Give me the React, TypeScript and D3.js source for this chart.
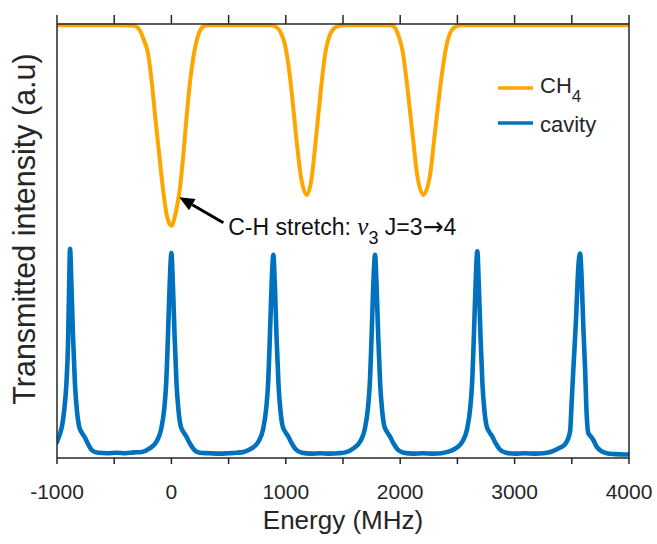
import React from 'react';
import * as d3 from 'd3';

// ---------- data ----------
const xTickLabels = [-1000, 0, 1000, 2000, 3000, 4000];
const xTickMarks = [-1000, -500, 0, 500, 1000, 1500, 2000, 2500, 3000, 3500, 4000];

// CH4 absorption trace (Energy MHz, transmitted a.u.)
const ch4Trace: [number, number][] = [
  [-1000, 0.997], [-800, 0.997], [-600, 0.997], [-420, 0.997], [-320, 0.996], [-290, 0.99],
  [-262, 0.978], [-245, 0.966], [-202, 0.929], [-172, 0.867], [-143, 0.79], [-106, 0.698],
  [-71, 0.614], [-41, 0.56], [0, 0.535], [40, 0.568], [75, 0.622], [104, 0.698],
  [134, 0.79], [163, 0.867], [200, 0.936], [235, 0.975], [279, 0.994], [320, 0.997],
  [500, 0.997], [700, 0.997], [862, 0.997], [915, 0.993], [949, 0.984], [993, 0.952],
  [1031, 0.89], [1060, 0.821], [1095, 0.729], [1130, 0.652], [1183, 0.606], [1226, 0.645],
  [1255, 0.714], [1284, 0.79], [1314, 0.867], [1343, 0.929], [1386, 0.975], [1445, 0.994],
  [1503, 0.997], [1700, 0.997], [1900, 0.997], [1945, 0.994], [1983, 0.975], [2022, 0.936],
  [2057, 0.867], [2086, 0.798], [2115, 0.729], [2144, 0.66], [2202, 0.606], [2261, 0.652],
  [2295, 0.729], [2328, 0.806], [2363, 0.882], [2406, 0.952], [2464, 0.99], [2523, 0.997],
  [2800, 0.997], [3200, 0.997], [3600, 0.997], [4000, 0.997],
];

// Cavity transmission trace (Energy MHz, transmitted a.u.)
const cavityTrace: [number, number][] = [
  [-1000, 0.037], [-975, 0.055], [-955, 0.075], [-935, 0.115], [-918, 0.17], [-904, 0.26],
  [-895, 0.38], [-886, 0.482], [-874, 0.4], [-860, 0.28], [-843, 0.17], [-826, 0.11],
  [-806, 0.072], [-782, 0.058], [-758, 0.048], [-728, 0.032], [-695, 0.018], [-640, 0.012],
  [-560, 0.011], [-480, 0.012], [-400, 0.011], [-330, 0.013], [-260, 0.014], [-190, 0.022],
  [-130, 0.038], [-90, 0.066], [-62, 0.115], [-46, 0.17], [-30, 0.28], [-15, 0.4],
  [0, 0.472], [13, 0.4], [28, 0.28], [45, 0.17], [62, 0.11], [80, 0.075],
  [105, 0.06], [130, 0.05], [160, 0.034], [195, 0.02], [250, 0.012], [330, 0.011],
  [420, 0.01], [500, 0.011], [570, 0.012], [631, 0.014], [701, 0.022], [761, 0.038],
  [801, 0.066], [829, 0.115], [845, 0.17], [861, 0.28], [876, 0.4], [891, 0.468],
  [904, 0.4], [919, 0.28], [936, 0.17], [953, 0.11], [971, 0.075], [996, 0.06],
  [1021, 0.05], [1051, 0.034], [1086, 0.02], [1141, 0.012], [1220, 0.01], [1300, 0.011],
  [1380, 0.01], [1460, 0.011], [1520, 0.013], [1590, 0.022], [1650, 0.038], [1690, 0.066],
  [1718, 0.115], [1734, 0.17], [1750, 0.28], [1765, 0.4], [1780, 0.468], [1793, 0.4],
  [1808, 0.28], [1825, 0.17], [1842, 0.11], [1860, 0.075], [1885, 0.06], [1910, 0.05],
  [1940, 0.034], [1975, 0.02], [2030, 0.012], [2110, 0.01], [2200, 0.011], [2290, 0.01],
  [2360, 0.011], [2414, 0.014], [2484, 0.022], [2544, 0.038], [2584, 0.066], [2612, 0.115],
  [2628, 0.17], [2644, 0.28], [2659, 0.4], [2674, 0.476], [2687, 0.4], [2702, 0.28],
  [2719, 0.17], [2736, 0.11], [2754, 0.075], [2779, 0.06], [2804, 0.05], [2834, 0.034],
  [2869, 0.02], [2924, 0.012], [3000, 0.01], [3090, 0.011], [3180, 0.01], [3250, 0.011],
  [3312, 0.014], [3382, 0.022], [3442, 0.032], [3485, 0.061], [3499, 0.13], [3514, 0.207],
  [3537, 0.32], [3557, 0.44], [3572, 0.471], [3585, 0.42], [3601, 0.3], [3616, 0.207],
  [3630, 0.1], [3645, 0.057], [3665, 0.05], [3689, 0.041], [3720, 0.025], [3747, 0.018],
  [3805, 0.011], [3880, 0.009], [3950, 0.008], [4000, 0.008],
];

// annotation: arrow tip, arrow tail, text anchor (Energy MHz, a.u.)
const arrowTip: [number, number] = [69, 0.601];
const arrowTail: [number, number] = [454, 0.542];
const noteAnchor: [number, number] = [497, 0.514];

const seriesNames = ['CH', 'cavity'];
const ORANGE = '#FFA500';
const BLUE = '#0072BD';
const FONT = '"Liberation Sans", Arial, Helvetica, sans-serif';

export default function App() {
  const W = 657, H = 544;
  const L = 57, R = 629, T = 24, B = 458;
  const x = d3.scaleLinear().domain([-1000, 4000]).range([L, R]);
  const y = d3.scaleLinear().domain([0, 1]).range([B, T]);

  const line = d3.line<[number, number]>()
    .x(d => x(d[0]))
    .y(d => y(d[1]))
    .curve(d3.curveMonotoneX);

  // arrow geometry
  const tx = x(arrowTip[0]), ty = y(arrowTip[1]);
  const sx = x(arrowTail[0]), sy = y(arrowTail[1]);
  const ang = Math.atan2(ty - sy, tx - sx);
  const hl = 15, hw = 6.5;
  const bx = tx - hl * Math.cos(ang), by = ty - hl * Math.sin(ang);
  const head = [
    [tx, ty],
    [bx + hw * Math.sin(ang), by - hw * Math.cos(ang)],
    [bx - hw * Math.sin(ang), by + hw * Math.cos(ang)],
  ].map(p => p.join(',')).join(' ');

  return (
    <svg width={W} height={H} viewBox={`0 0 ${W} ${H}`}
      style={{ position: 'absolute', left: 0, top: 0, display: 'block', background: '#fff' }}
      fontFamily={FONT}>
      <defs>
        <clipPath id="plotclip">
          <rect x={L} y={T - 3} width={R - L} height={B - T + 3} />
        </clipPath>
      </defs>

      {/* data */}
      <g clipPath="url(#plotclip)">
        <path d={line(cavityTrace) || ''} fill="none" stroke={BLUE} strokeWidth={4.6}
          strokeLinejoin="round" strokeLinecap="round" />
        <path d={line(ch4Trace) || ''} fill="none" stroke={ORANGE} strokeWidth={4}
          strokeLinejoin="round" strokeLinecap="round" />
      </g>

      {/* box */}
      <g stroke="#262626" strokeWidth={1.5} fill="none">
        <line x1={L} y1={T} x2={R} y2={T} />
        <line x1={L} y1={B} x2={R} y2={B} />
        <line x1={L} y1={T} x2={L} y2={B} />
        <line x1={R} y1={T} x2={R} y2={B} />
        {xTickMarks.map(v => (
          <g key={v}>
            <line x1={x(v)} x2={x(v)} y1={B} y2={B + 6} />
            <line x1={x(v)} x2={x(v)} y1={T} y2={T - 9} />
          </g>
        ))}
      </g>

      {/* tick labels */}
      <g fontSize={21} fill="#262626" textAnchor="middle">
        {xTickLabels.map(v => (
          <text key={v} x={x(v)} y={499}>{v}</text>
        ))}
      </g>

      {/* axis titles */}
      <text x={(L + R) / 2} y={529} textAnchor="middle" fontSize={26} fill="#262626">Energy (MHz)</text>
      <text transform={`translate(35,229) rotate(-90)`} textAnchor="middle" fontSize={30.5}
        fill="#262626">Transmitted intensity (a.u)</text>

      {/* legend */}
      <g>
        <line x1={498} x2={533} y1={88} y2={88} stroke={ORANGE} strokeWidth={3.5} />
        <text x={540} y={93} fontSize={22} fill="#262626">{seriesNames[0]}
          <tspan dy={9} fontSize={17}>4</tspan>
        </text>
        <line x1={498} x2={533} y1={123} y2={123} stroke={BLUE} strokeWidth={3.5} />
        <text x={540} y={132} fontSize={22} fill="#262626">{seriesNames[1]}</text>
      </g>

      {/* annotation */}
      <g>
        <line x1={sx} y1={sy} x2={bx} y2={by} stroke="#000" strokeWidth={3} />
        <polygon points={head} fill="#000" />
        <text x={x(noteAnchor[0])} y={y(noteAnchor[1])} fontSize={23} fill="#111">
          C-H stretch:{' '}
          <tspan fontFamily='"Liberation Serif", "DejaVu Serif", serif' fontStyle="italic" fontSize={25}>ν</tspan>
          <tspan dy={9} fontSize={18}>3</tspan>
          <tspan dy={-9}> J=3</tspan>
          <tspan fontFamily='"DejaVu Sans", sans-serif' fontSize={25}>→</tspan>
          <tspan>4</tspan>
        </text>
      </g>
    </svg>
  );
}
